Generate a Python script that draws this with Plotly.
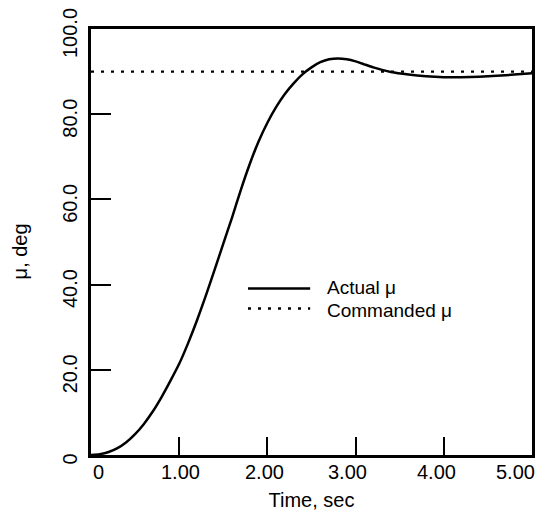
import plotly.graph_objects as go

# ---- Data ----
time_s = [0, 0.1, 0.2, 0.3, 0.4, 0.5, 0.6, 0.7, 0.8, 0.9, 1.0, 1.1, 1.2, 1.3, 1.4, 1.5,
          1.6, 1.7, 1.8, 1.9, 2.0, 2.1, 2.2, 2.3, 2.4, 2.5, 2.6, 2.7, 2.8, 2.9, 3.0,
          3.1, 3.2, 3.3, 3.4, 3.6, 3.8, 4.0, 4.2, 4.4, 4.6, 4.8, 5.0]
actual_mu = [0, 0.2, 0.7, 1.6, 3.0, 4.9, 7.3, 10.2, 13.6, 17.4, 21.4, 26.2, 31.5, 37.3, 43.4, 49.6,
             55.8, 62.3, 68.3, 73.6, 78.0, 81.7, 84.8, 87.3, 89.4, 91.0, 92.2, 92.9, 93.1, 92.9, 92.4,
             91.7, 91.0, 90.4, 89.9, 89.3, 88.9, 88.7, 88.7, 88.8, 89.0, 89.3, 89.6]
cmd_time = [0, 5.0]
commanded_mu = [90, 90]

x_ticks = [0, 1, 2, 3, 4, 5]
x_ticktext = ["0", "1.00", "2.00", "3.00", "4.00", "5.00"]
y_ticks = [0, 20, 40, 60, 80, 100]
y_ticktext = ["0", "20.0", "40.0", "60.0", "80.0", "100.0"]

# ---- Style ----
FONT = "Liberation Sans, Arial, Helvetica, sans-serif"
FS = 20
LEG_FS = 19
x_label_shift_px = [7, 1, -3, -8, -7, -17]
DOT = "3px,7px"

fig = go.Figure()
fig.add_trace(go.Scatter(x=time_s, y=actual_mu, mode="lines",
                         line=dict(color="black", width=2.5, shape="spline", smoothing=0.6),
                         showlegend=False, name="Actual μ"))
fig.add_trace(go.Scatter(x=cmd_time, y=commanded_mu, mode="lines",
                         line=dict(color="black", width=2.4, dash=DOT),
                         showlegend=False, name="Commanded μ"))

# Legend drawn as decoration
fig.add_shape(type="line", xref="paper", yref="paper", x0=0.356, x1=0.497, y0=0.391, y1=0.391,
              line=dict(color="black", width=2.4))
fig.add_shape(type="line", xref="paper", yref="paper", x0=0.356, x1=0.497, y0=0.344, y1=0.344,
              line=dict(color="black", width=2.4, dash=DOT))
fig.add_annotation(xref="paper", yref="paper", x=0.531, y=0.393, text="Actual μ", showarrow=False,
                   xanchor="left", yanchor="middle", font=dict(family=FONT, size=LEG_FS, color="black"))
fig.add_annotation(xref="paper", yref="paper", x=0.531, y=0.340, text="Commanded μ", showarrow=False,
                   xanchor="left", yanchor="middle", font=dict(family=FONT, size=LEG_FS, color="black"))

# X tick labels (slightly offset as in the reference)
for v, t, s in zip(x_ticks, x_ticktext, x_label_shift_px):
    fig.add_annotation(xref="x", yref="paper", x=v, y=-0.040, text=t, showarrow=False,
                       xanchor="center", yanchor="middle", xshift=s,
                       font=dict(family=FONT, size=FS, color="black"))

# Y axis title
fig.add_annotation(xref="paper", yref="paper", x=-0.160, y=0.479, text="μ, deg", showarrow=False,
                   textangle=-90, xanchor="center", yanchor="middle",
                   font=dict(family=FONT, size=FS, color="black"))

fig.update_layout(
    width=551, height=519,
    margin=dict(l=91, r=19, t=29, b=64, autoexpand=False),
    paper_bgcolor="white", plot_bgcolor="white",
    font=dict(family=FONT, size=FS, color="black"),
    xaxis=dict(range=[0, 5], tickvals=x_ticks, ticks="inside", ticklen=18, showticklabels=False,
               tickwidth=2, tickcolor="black", showline=True, linewidth=2.5, linecolor="black",
               mirror=True, showgrid=False, zeroline=False, automargin=False,
               title=dict(text="Time, sec", standoff=37, font=dict(size=FS))),
    yaxis=dict(range=[0, 100], tickvals=y_ticks, ticktext=y_ticktext, ticks="inside", ticklen=20,
               tickwidth=2, tickcolor="black", showline=True, linewidth=2.5, linecolor="black",
               mirror=True, showgrid=False, zeroline=False, tickangle=-90, ticklabelstandoff=3,
               ticklabelshift=7, ticklabeloverflow="allow", automargin=False),
)

fig.write_html("out.html")
